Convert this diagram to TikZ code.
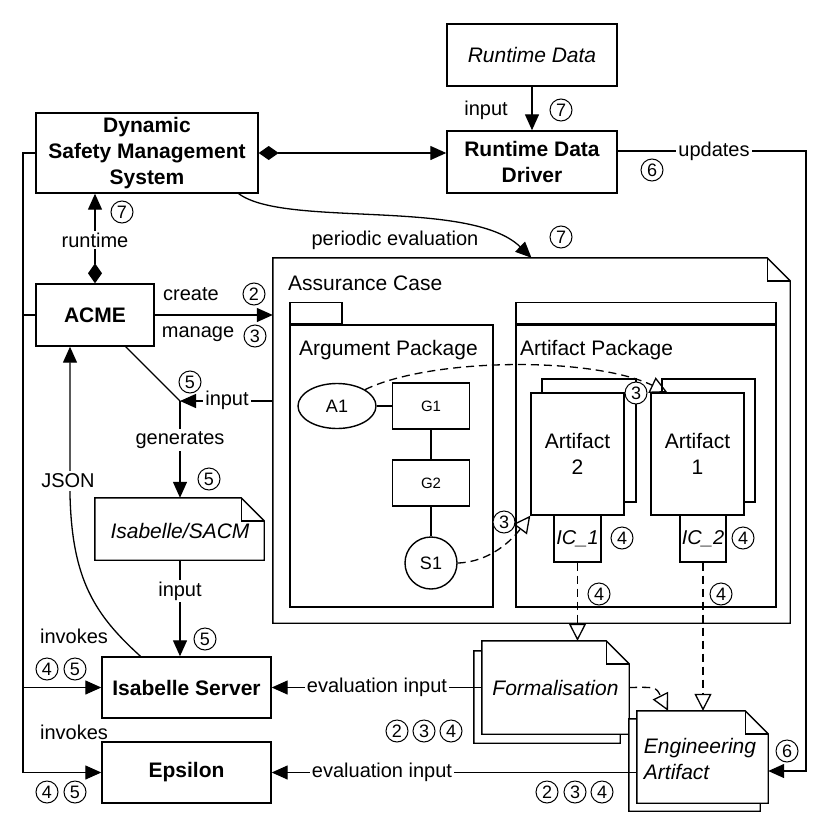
\documentclass[tikz,border=0pt]{standalone}
\usepackage{fontspec}
\setmainfont{Liberation Sans}
\usetikzlibrary{shapes.geometric,arrows.meta}

% note outline with a folded corner round an existing node
\newcommand{\notefold}[2]{%
  \draw[line width=1.4pt, fill=white] (#1.north west) -- ([xshift=-#2]#1.north east) -- ([yshift=-#2]#1.north east) -- (#1.south east) -- (#1.south west) -- cycle;
  \draw[line width=1.4pt] ([xshift=-#2]#1.north east) |- ([yshift=-#2]#1.north east);}

\begin{document}
\begin{tikzpicture}[x=1pt, y=-1pt,
    every node/.style={font=\fontsize{21}{26}\selectfont},
    box/.style={draw, line width=1.4pt, fill=white, inner sep=2pt, align=center},
    sheet/.style={inner sep=2pt, align=center},
    lbl/.style={font=\fontsize{20}{24}\selectfont, inner sep=2pt},
    gap/.style={lbl, fill=white},
    num/.style={circle, draw, fill=white, line width=1pt, minimum size=22pt, inner sep=0pt, font=\fontsize{18}{18}\selectfont},
    conn/.style={line width=1.3pt},
    fwd/.style={conn, -{Triangle[length=16pt,width=14pt]}},
    owns/.style={conn, {Diamond[length=20pt,width=14pt]}-{Triangle[length=16pt,width=14pt]}},
    trace/.style={conn, dash pattern=on 8pt off 5pt, -{Triangle[open,length=17pt,width=17pt]}}
]
\useasboundingbox (0,0) rectangle (830,835);

% Runtime side
\node[box, minimum width=170pt, minimum height=62pt] (rd) at (532,55) {\itshape Runtime Data};
\node[box, minimum width=170pt, minimum height=62pt, font=\fontsize{21}{26}\selectfont\bfseries] (rdd) at (532,162) {Runtime Data\\Driver};
\node[box, minimum width=222pt, minimum height=80pt, font=\fontsize{21}{26}\selectfont\bfseries] (dsms) at (147,153) {Dynamic\\Safety Management\\System};
\node[box, minimum width=118pt, minimum height=62pt, font=\fontsize{21}{26}\selectfont\bfseries] (acme) at (95,315) {ACME};

% Assurance case with its two packages
\node[sheet, minimum width=517pt, minimum height=365pt] (ac) at (531.5,440.5) {};
\notefold{ac}{23pt}
\node[anchor=west, inner sep=0pt] (aclbl) at (288,283) {Assurance Case};

\node[box, minimum width=203pt, minimum height=282pt] (argpkg) at (391.5,466) {};
\node[box, minimum width=52pt, minimum height=21pt, anchor=south west] (argtab) at (argpkg.north west) {};
\node[anchor=west, inner sep=0pt] (arglbl) at (299,350) {Argument Package};

\node[box, minimum width=260pt, minimum height=282pt] (artpkg) at (646,466) {};
\node[box, minimum width=260pt, minimum height=21pt, anchor=south west] (arttab) at (artpkg.north west) {};
\node[anchor=west, inner sep=0pt] (artlbl) at (520,350) {Artifact Package};

% Argument elements
\node[box, ellipse, minimum width=78pt, minimum height=45pt, font=\fontsize{18}{18}\selectfont] (a1) at (337,406) {A1};
\node[box, minimum width=77pt, minimum height=46pt, font=\fontsize{15}{15}\selectfont] (g1) at (431,406) {G1};
\node[box, minimum width=77pt, minimum height=46pt, font=\fontsize{15}{15}\selectfont] (g2) at (431,483) {G2};
\node[box, circle, minimum size=52pt, font=\fontsize{18}{18}\selectfont] (s1) at (431,563) {S1};
\draw[conn] (a1) -- (g1);
\draw[conn] (g1) -- (g2);
\draw[conn] (g2) -- (s1);

% Artifacts
\node[box, minimum width=94pt, minimum height=123pt] (art2back) at (589,440.5) {};
\node[box, minimum width=93pt, minimum height=122pt] (art2) at (577.5,454) {Artifact\\2};
\node[box, minimum width=93pt, minimum height=123pt] (art1back) at (708.5,440.5) {};
\node[box, minimum width=93pt, minimum height=122pt] (art1) at (697.5,454) {Artifact\\1};
\node[box, minimum width=47pt, minimum height=47pt, font=\fontsize{20}{24}\selectfont\itshape] (ic1) at (577.5,538.5) {IC\_1};
\node[box, minimum width=46pt, minimum height=47pt, font=\fontsize{20}{24}\selectfont\itshape] (ic2) at (703,538.5) {IC\_2};

\draw[trace] (a1.north east) .. controls (430,358) and (590,356) .. ([xshift=17pt]art1.north west);
\draw[trace] (s1.east) .. controls (490,562) and (512,540) .. (art2.south west);

% Documents
\node[sheet, minimum width=146pt, minimum height=92pt] (formback) at (547,697) {};
\notefold{formback}{23pt}
\node[sheet, minimum width=147pt, minimum height=93pt] (form) at (555.5,687.5) {};
\notefold{form}{23pt}
\node[inner sep=0pt, font=\fontsize{21}{26}\selectfont\itshape] (formtxt) at (form) {Formalisation};

\node[sheet, minimum width=131pt, minimum height=92pt] (eaback) at (694.5,765) {};
\notefold{eaback}{23pt}
\node[sheet, minimum width=131pt, minimum height=92pt] (ea) at (702.5,757) {};
\notefold{ea}{23pt}
\node[inner sep=0pt, align=left, font=\fontsize{21}{26}\selectfont\itshape] (eatxt) at (700,759) {Engineering\\Artifact};

\node[sheet, minimum width=169pt, minimum height=62pt] (sacm) at (179.5,529) {};
\notefold{sacm}{23pt}
\node[inner sep=0pt, font=\fontsize{21}{26}\selectfont\itshape] (sacmtxt) at (180,531) {Isabelle/SACM};

% Tools
\node[box, minimum width=169pt, minimum height=61pt, font=\fontsize{21}{26}\selectfont\bfseries] (isrv) at (186.5,687.5) {Isabelle Server};
\node[box, minimum width=169pt, minimum height=61pt, font=\fontsize{21}{26}\selectfont\bfseries] (eps) at (186.5,772.5) {Epsilon};

\draw[trace] (ic1.south) -- (ic1.south |- form.north);
\draw[trace] (ic2.south) -- (ic2.south |- ea.north);
\draw[trace] (form.east) .. controls (656,687) .. ([xshift=-34.5pt]ea.north);

% Connectors
\draw[fwd] (rd.south) -- (rdd.north);
\node[lbl] (inlbl) at (486,110) {input};
\draw[owns] (dsms.east) -- (dsms.east -| rdd.west);
\coordinate (upd) at (806,151);
\draw[fwd] ([yshift=11pt]rdd.east) -- (upd) |- ([yshift=-14pt]ea.east);
\node[gap] (updlbl) at (714,151) {updates};

\draw[owns] (acme.north) -- (acme.north |- dsms.south);
\node[gap] (rtlbl) at (95,240) {runtime};

\draw[fwd] ([xshift=-20pt]dsms.south east) .. controls (285,228) and (470,198) .. (ac.north);
\node[lbl] (pelbl) at (395,240) {periodic evaluation};

\draw[fwd] (acme.east) -- (acme.east -| ac.west);
\node[lbl] (crlbl) at (191,294) {create};
\node[lbl] (mglbl) at (198,334) {manage};

\coordinate (jn) at (180,401);
\draw[conn] ([xshift=-29pt]acme.south east) -- (jn);
\draw[fwd] (jn -| ac.west) -- (jn);
\node[gap] (jnlbl) at (227,400) {input};
\draw[fwd] (jn) -- (jn |- sacm.north);
\node[gap] (genlbl) at (180,440) {generates};

\draw[fwd] (sacm.south -| jn) -- (jn |- isrv.north);
\node[gap] (sinlbl) at (180,591) {input};

\coordinate (jsonbend) at (70,495);
\draw[fwd] ([xshift=-46pt]isrv.north) .. controls (95,615) and (72,580) .. (jsonbend) -- (jsonbend |- acme.south);
\node[gap, inner sep=3pt] (jsonlbl) at (68,481) {JSON};

\coordinate (busbot) at (23,772.5);
\draw[fwd] (dsms.west) -| (busbot) -- (eps.west);
\draw[conn] (acme.west) -- (acme.west -| busbot);
\draw[fwd] (isrv.west -| busbot) -- (isrv.west);
\node[lbl] (inv1) at (74,636) {invokes};
\node[lbl] (inv2) at (74,732) {invokes};

\draw[fwd] (isrv.east -| form.west) -- (isrv.east);
\node[gap] (evlbl1) at (377,687) {evaluation input};
\draw[fwd] (eps.east -| ea.west) -- (eps.east);
\node[gap] (evlbl2) at (382,772) {evaluation input};

% Step numbers
\node[num] (c1) at (561,110) {7};
\node[num] (c2) at (652,170) {6};
\node[num] (c3) at (122,212) {7};
\node[num] (c4) at (561,237) {7};
\node[num] (c5) at (254,294) {2};
\node[num] (c6) at (255,336) {3};
\node[num] (c7) at (190,382) {5};
\node[num] (c8) at (209,479) {5};
\node[num] (c9) at (205,639) {5};
\node[num] (c10) at (47,669) {4};
\node[num] (c11) at (75,669) {5};
\node[num] (c12) at (47,792) {4};
\node[num] (c13) at (75,792) {5};
\node[num] (c14) at (636,393) {3};
\node[num] (c15) at (504,522) {3};
\node[num] (c16) at (622,538) {4};
\node[num] (c17) at (743,538) {4};
\node[num] (c18) at (599,594) {4};
\node[num] (c19) at (721,594) {4};
\node[num] (c20) at (397,731) {2};
\node[num] (c21) at (424,731) {3};
\node[num] (c22) at (451,731) {4};
\node[num] (c23) at (547,792) {2};
\node[num] (c24) at (575,792) {3};
\node[num] (c25) at (602,792) {4};
\node[num] (c26) at (787,751) {6};

\end{tikzpicture}
\end{document}
